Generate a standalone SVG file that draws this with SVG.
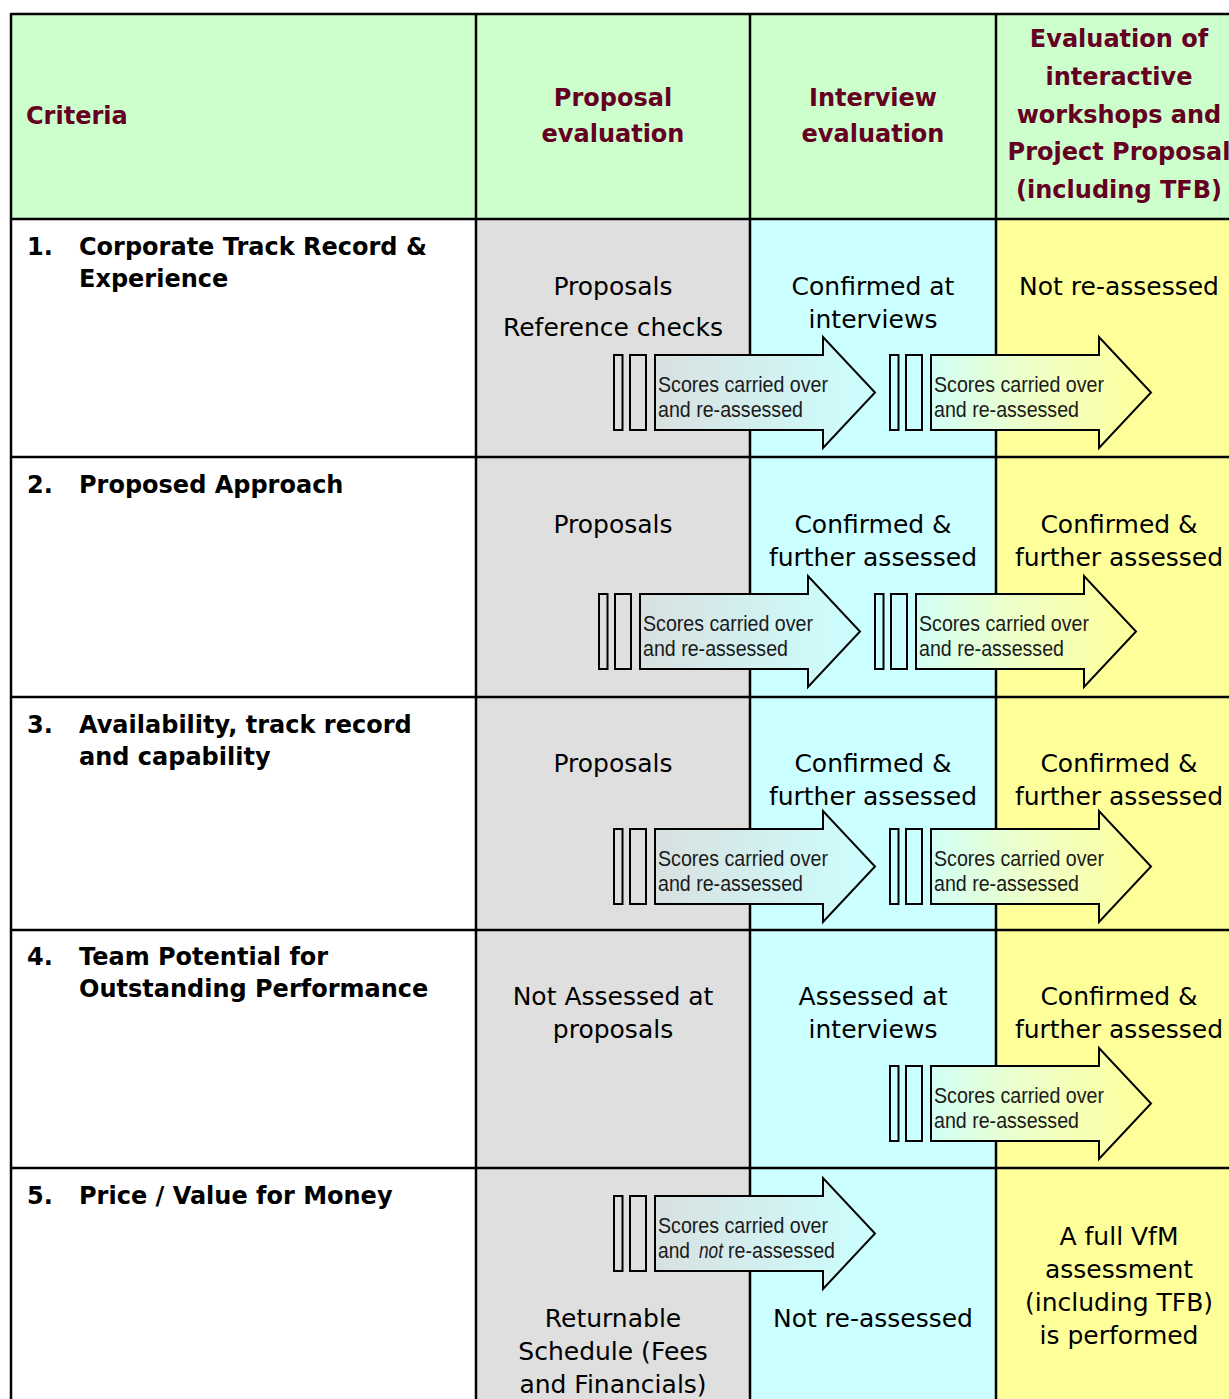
<svg xmlns="http://www.w3.org/2000/svg" width="1229" height="1399" viewBox="0 0 1229 1399">
<style>
.h{font-family:"DejaVu Sans",sans-serif;font-weight:bold;font-size:24px;fill:#660022;text-anchor:middle}
.hl{font-family:"DejaVu Sans",sans-serif;font-weight:bold;font-size:24px;fill:#660022}
.c{font-family:"DejaVu Sans",sans-serif;font-weight:bold;font-size:24px;fill:#000}
.t{font-family:"DejaVu Sans",sans-serif;font-size:25px;fill:#000;text-anchor:middle}
.a{font-family:"Liberation Sans",Arial,sans-serif;font-size:22px;fill:#1a1a1a}
.grid{stroke:#000;stroke-width:2.5;fill:none}
.ab{stroke:#000;stroke-width:2}
.bar{fill:none;stroke:#000;stroke-width:2}
</style>
<defs>
<linearGradient id="gA" x1="0" y1="0" x2="1" y2="0">
<stop offset="0" stop-color="#d9e0e0"/>
<stop offset="1" stop-color="#ccffff"/>
</linearGradient>
<linearGradient id="gB" x1="0" y1="0" x2="1" y2="0">
<stop offset="0" stop-color="#d2fff6"/>
<stop offset="0.45" stop-color="#eeffc8"/>
<stop offset="1" stop-color="#ffff99"/>
</linearGradient>
</defs>
<rect x="0" y="0" width="1229" height="1399" fill="#fff"/>
<g id="fills">
<rect x="11" y="14" width="1218" height="205" fill="#ccffcc"/>
<rect x="476" y="219" width="274" height="1180" fill="#dfdfdf"/>
<rect x="750" y="219" width="246" height="1180" fill="#ccffff"/>
<rect x="996" y="219" width="233" height="1180" fill="#ffff99"/>
</g>
<g id="grid" class="grid">
<line x1="11" y1="14" x2="1229" y2="14"/>
<line x1="11" y1="219" x2="1229" y2="219"/>
<line x1="11" y1="457" x2="1229" y2="457"/>
<line x1="11" y1="697" x2="1229" y2="697"/>
<line x1="11" y1="930" x2="1229" y2="930"/>
<line x1="11" y1="1168" x2="1229" y2="1168"/>
<line x1="11" y1="13" x2="11" y2="1399"/>
<line x1="476" y1="13" x2="476" y2="1399"/>
<line x1="750" y1="13" x2="750" y2="1399"/>
<line x1="996" y1="13" x2="996" y2="1399"/>
</g>
<g id="header-criteria"><text class="hl" x="26" y="124">Criteria</text></g>
<g id="header-proposal"><text class="h" x="613" y="106">Proposal</text><text class="h" x="613" y="142">evaluation</text></g>
<g id="header-interview"><text class="h" x="873" y="106">Interview</text><text class="h" x="873" y="142">evaluation</text></g>
<g id="header-workshops">
<text class="h" x="1119" y="47">Evaluation of</text>
<text class="h" x="1119" y="85">interactive</text>
<text class="h" x="1119" y="123">workshops and</text>
<text class="h" x="1119" y="160">Project Proposal</text>
<text class="h" x="1119" y="198">(including TFB)</text>
</g>
<g id="crit1"><text class="c" x="27" y="255">1.</text><text class="c" x="79" y="255">Corporate Track Record &amp;</text><text class="c" x="79" y="287">Experience</text></g>
<g id="crit2"><text class="c" x="27" y="493">2.</text><text class="c" x="79" y="493">Proposed Approach</text></g>
<g id="crit3"><text class="c" x="27" y="733">3.</text><text class="c" x="79" y="733">Availability, track record</text><text class="c" x="79" y="765">and capability</text></g>
<g id="crit4"><text class="c" x="27" y="965">4.</text><text class="c" x="79" y="965">Team Potential for</text><text class="c" x="79" y="997">Outstanding Performance</text></g>
<g id="crit5"><text class="c" x="27" y="1204">5.</text><text class="c" x="79" y="1204">Price / Value for Money</text></g>

<g id="r1-proposal"><text class="t" x="613" y="295">Proposals</text><text class="t" x="613" y="336">Reference checks</text></g>
<g id="r1-interview"><text class="t" x="873" y="295">Confirmed at</text><text class="t" x="873" y="328">interviews</text></g>
<g id="r1-workshop"><text class="t" x="1119" y="295">Not re-assessed</text></g>
<g id="r2-proposal"><text class="t" x="613" y="533">Proposals</text></g>
<g id="r2-interview"><text class="t" x="873" y="533">Confirmed &amp;</text><text class="t" x="873" y="566">further assessed</text></g>
<g id="r2-workshop"><text class="t" x="1119" y="533">Confirmed &amp;</text><text class="t" x="1119" y="566">further assessed</text></g>
<g id="r3-proposal"><text class="t" x="613" y="772">Proposals</text></g>
<g id="r3-interview"><text class="t" x="873" y="772">Confirmed &amp;</text><text class="t" x="873" y="805">further assessed</text></g>
<g id="r3-workshop"><text class="t" x="1119" y="772">Confirmed &amp;</text><text class="t" x="1119" y="805">further assessed</text></g>
<g id="r4-proposal"><text class="t" x="613" y="1005">Not Assessed at</text><text class="t" x="613" y="1038">proposals</text></g>
<g id="r4-interview"><text class="t" x="873" y="1005">Assessed at</text><text class="t" x="873" y="1038">interviews</text></g>
<g id="r4-workshop"><text class="t" x="1119" y="1005">Confirmed &amp;</text><text class="t" x="1119" y="1038">further assessed</text></g>
<g id="r5-proposal"><text class="t" x="613" y="1327">Returnable</text><text class="t" x="613" y="1360">Schedule (Fees</text><text class="t" x="613" y="1393">and Financials)</text></g>
<g id="r5-interview"><text class="t" x="873" y="1327">Not re-assessed</text></g>
<g id="r5-workshop"><text class="t" x="1119" y="1245">A full VfM</text><text class="t" x="1119" y="1278">assessment</text><text class="t" x="1119" y="1311">(including TFB)</text><text class="t" x="1119" y="1344">is performed</text></g>

<g id="connectors">
<g transform="translate(0,0)">
<rect class="bar" x="614" y="355" width="8.5" height="75"/><rect class="bar" x="630" y="355" width="16" height="75"/>
<path class="ab" fill="url(#gA)" d="M655,355 H823 V337 L875,392.5 L823,448 V430 H655 Z"/>
<text class="a" x="658" y="392" textLength="170" lengthAdjust="spacingAndGlyphs">Scores carried over</text>
<text class="a" x="658" y="417" textLength="145" lengthAdjust="spacingAndGlyphs">and re-assessed</text>
</g>
<g transform="translate(276,0)">
<rect class="bar" x="614" y="355" width="8.5" height="75"/><rect class="bar" x="630" y="355" width="16" height="75"/>
<path class="ab" fill="url(#gB)" d="M655,355 H823 V337 L875,392.5 L823,448 V430 H655 Z"/>
<text class="a" x="658" y="392" textLength="170" lengthAdjust="spacingAndGlyphs">Scores carried over</text>
<text class="a" x="658" y="417" textLength="145" lengthAdjust="spacingAndGlyphs">and re-assessed</text>
</g>
<g transform="translate(-15,239)">
<rect class="bar" x="614" y="355" width="8.5" height="75"/><rect class="bar" x="630" y="355" width="16" height="75"/>
<path class="ab" fill="url(#gA)" d="M655,355 H823 V337 L875,392.5 L823,448 V430 H655 Z"/>
<text class="a" x="658" y="392" textLength="170" lengthAdjust="spacingAndGlyphs">Scores carried over</text>
<text class="a" x="658" y="417" textLength="145" lengthAdjust="spacingAndGlyphs">and re-assessed</text>
</g>
<g transform="translate(261,239)">
<rect class="bar" x="614" y="355" width="8.5" height="75"/><rect class="bar" x="630" y="355" width="16" height="75"/>
<path class="ab" fill="url(#gB)" d="M655,355 H823 V337 L875,392.5 L823,448 V430 H655 Z"/>
<text class="a" x="658" y="392" textLength="170" lengthAdjust="spacingAndGlyphs">Scores carried over</text>
<text class="a" x="658" y="417" textLength="145" lengthAdjust="spacingAndGlyphs">and re-assessed</text>
</g>
<g transform="translate(0,474)">
<rect class="bar" x="614" y="355" width="8.5" height="75"/><rect class="bar" x="630" y="355" width="16" height="75"/>
<path class="ab" fill="url(#gA)" d="M655,355 H823 V337 L875,392.5 L823,448 V430 H655 Z"/>
<text class="a" x="658" y="392" textLength="170" lengthAdjust="spacingAndGlyphs">Scores carried over</text>
<text class="a" x="658" y="417" textLength="145" lengthAdjust="spacingAndGlyphs">and re-assessed</text>
</g>
<g transform="translate(276,474)">
<rect class="bar" x="614" y="355" width="8.5" height="75"/><rect class="bar" x="630" y="355" width="16" height="75"/>
<path class="ab" fill="url(#gB)" d="M655,355 H823 V337 L875,392.5 L823,448 V430 H655 Z"/>
<text class="a" x="658" y="392" textLength="170" lengthAdjust="spacingAndGlyphs">Scores carried over</text>
<text class="a" x="658" y="417" textLength="145" lengthAdjust="spacingAndGlyphs">and re-assessed</text>
</g>
<g transform="translate(276,711)">
<rect class="bar" x="614" y="355" width="8.5" height="75"/><rect class="bar" x="630" y="355" width="16" height="75"/>
<path class="ab" fill="url(#gB)" d="M655,355 H823 V337 L875,392.5 L823,448 V430 H655 Z"/>
<text class="a" x="658" y="392" textLength="170" lengthAdjust="spacingAndGlyphs">Scores carried over</text>
<text class="a" x="658" y="417" textLength="145" lengthAdjust="spacingAndGlyphs">and re-assessed</text>
</g>
<g transform="translate(0,841)">
<rect class="bar" x="614" y="355" width="8.5" height="75"/><rect class="bar" x="630" y="355" width="16" height="75"/>
<path class="ab" fill="url(#gA)" d="M655,355 H823 V337 L875,392.5 L823,448 V430 H655 Z"/>
<text class="a" x="658" y="392" textLength="170" lengthAdjust="spacingAndGlyphs">Scores carried over</text>
<text class="a" x="658" y="417" textLength="32" lengthAdjust="spacingAndGlyphs">and</text>
<text class="a" x="699" y="417" font-style="italic" textLength="24" lengthAdjust="spacingAndGlyphs">not</text>
<text class="a" x="728" y="417" textLength="107" lengthAdjust="spacingAndGlyphs">re-assessed</text>
</g>
</g>
</svg>
